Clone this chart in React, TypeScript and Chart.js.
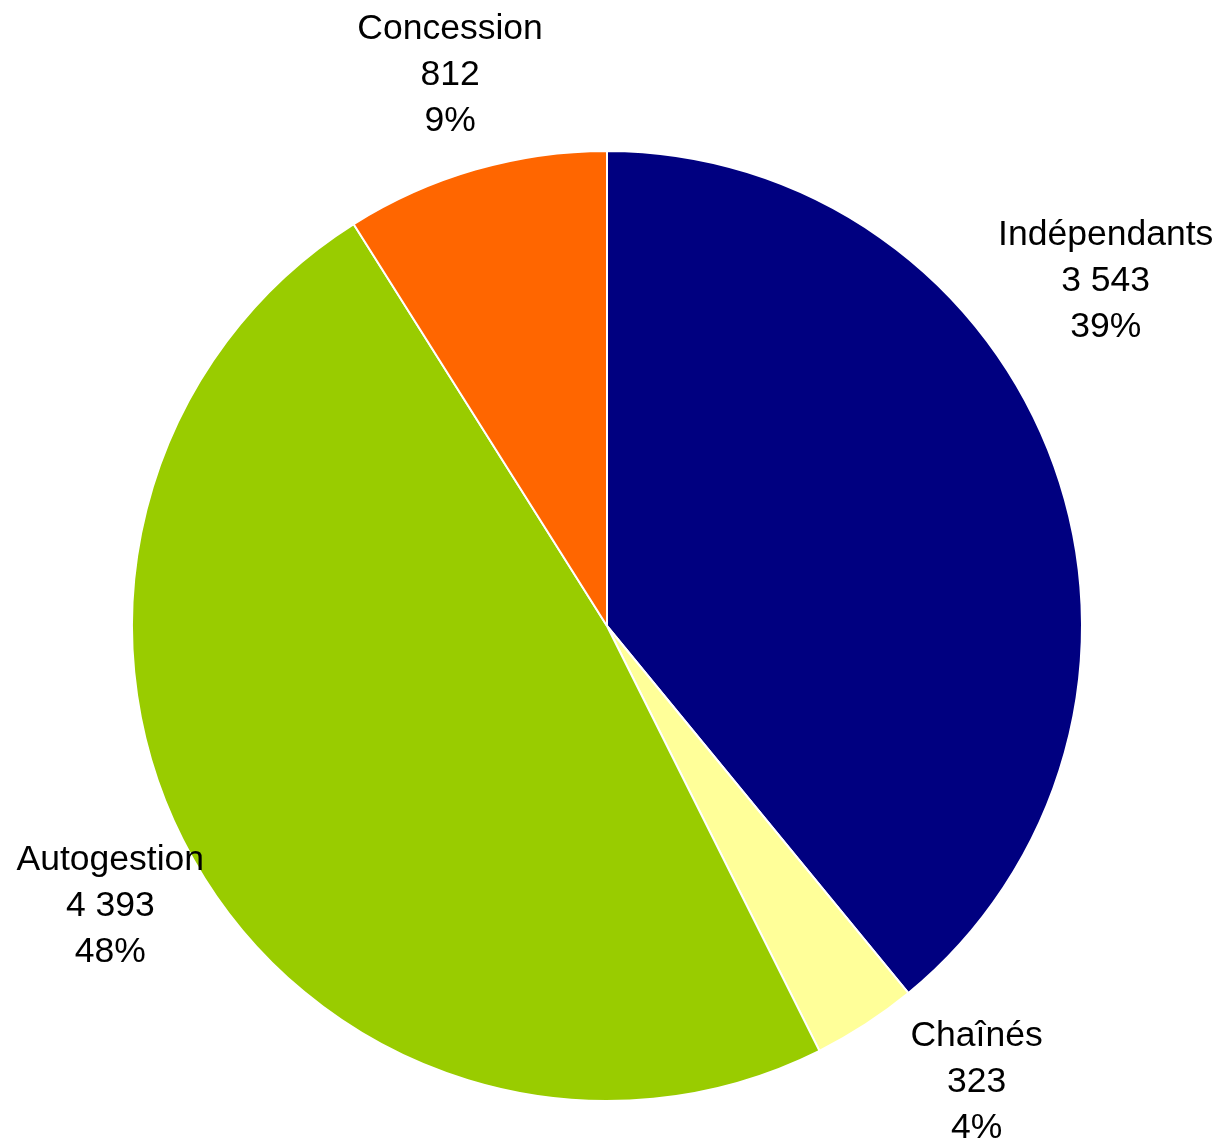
import React, { useEffect, useRef } from "react";
import { Chart, registerables } from "chart.js";

Chart.register(...registerables);

const categories = ["Indépendants", "Chaînés", "Autogestion", "Concession"];
const values = [3543, 323, 4393, 812];
const colors = ["#000080", "#FFFF99", "#99CC00", "#FF6600"];

// label layout: angular shift (degrees) from slice middle, and gap beyond the rim
const labelAngleShift = [-15.2, -6.2, 0.2, 0.3];
const labelGap = [133, 110, 94, 101];

const fmt = (n: number) => String(n).replace(/\B(?=(\d{3})+(?!\d))/g, " ");

const labelPlugin = {
  id: "outsideLabels",
  afterDraw(chart: any) {
    const ctx = chart.ctx;
    const meta = chart.getDatasetMeta(0);
    const total = values.reduce((a, b) => a + b, 0);
    ctx.save();
    ctx.font = '35.5px "Liberation Sans", Arial, sans-serif';
    ctx.fillStyle = "#000000";
    ctx.textAlign = "center";
    ctx.textBaseline = "middle";
    meta.data.forEach((arc: any, i: number) => {
      const p = arc.getProps(["x", "y", "startAngle", "endAngle", "outerRadius"], true);
      const mid = (p.startAngle + p.endAngle) / 2 + (labelAngleShift[i] * Math.PI) / 180;
      const d = p.outerRadius + labelGap[i];
      const cx = p.x + Math.cos(mid) * d;
      const cy = p.y + Math.sin(mid) * d + 3;
      const lines = [
        categories[i],
        fmt(values[i]),
        Math.round((values[i] / total) * 100) + "%",
      ];
      const lh = 46;
      lines.forEach((t, k) => {
        ctx.fillText(t, cx, cy + (k - 1) * lh);
      });
    });
    ctx.restore();
  },
};

export default function App() {
  const ref = useRef<HTMLCanvasElement>(null);
  useEffect(() => {
    document.body.style.margin = "0";
    const chart = new Chart(ref.current!, {
      type: "pie",
      data: {
        labels: categories,
        datasets: [
          {
            data: values,
            backgroundColor: colors,
            borderColor: "#FFFFFF",
            borderWidth: 2,
          },
        ],
      },
      options: {
        responsive: false,
        animation: false,
        layout: { padding: { left: 131, right: 133, top: 150, bottom: 36 } },
        plugins: {
          legend: { display: false },
          tooltip: { enabled: false },
        },
      },
      plugins: [labelPlugin],
    });
    return () => chart.destroy();
  }, []);
  return (
    <canvas
      ref={ref}
      width={1216}
      height={1138}
      style={{ display: "block", width: 1216, height: 1138 }}
    />
  );
}
